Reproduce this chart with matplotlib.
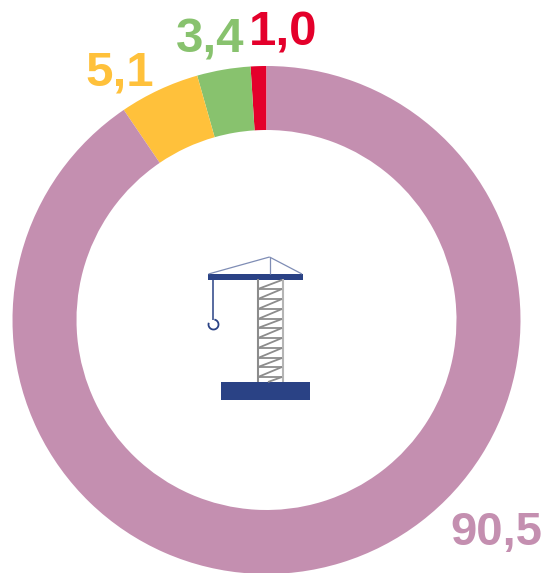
import matplotlib
matplotlib.use('Agg')

import matplotlib.pyplot as plt
from matplotlib.patches import Arc

values = [1.0, 3.4, 5.1, 90.5]
labels = ['1,0', '3,4', '5,1', '90,5']
colors = ['#E4002B', '#88C26E', '#FFC13B', '#C48FB0']
label_xy = [(283.5, 33), (210.5, 39.5), (120, 73), (496, 533)]
label_size = [35.5, 35.5, 35.5, 34]

W, H = 547, 573

fig = plt.figure(figsize=(W / 100, H / 100), dpi=100)
ax = fig.add_axes([0, 0, 1, 1])

# axes are in pixels of the picture, y measured from the top
ax.pie(values, colors=colors, startangle=90, counterclock=True,
       center=(266.5, H - 320), radius=254,
       wedgeprops=dict(width=64, linewidth=0))
ax.set_xlim(0, W)
ax.set_ylim(0, H)
ax.set_aspect('equal')
ax.axis('off')

for lab, col, (x, y), size in zip(labels, colors, label_xy, label_size):
    ax.text(x, H - y, lab, color=col, fontsize=size, fontweight='bold',
            family='Liberation Sans', ha='center', va='center')


# crane icon
def px(x, y):
    return x, H - y


navy = '#2A4285'
line = '#7F8DB5'
grey = '#8C8C8C'


def seg(x0, y0, x1, y1, c, lw):
    ax.plot([x0, x1], [H - y0, H - y1], color=c, lw=lw, solid_capstyle='butt')


def box(x0, y0, x1, y1):
    ax.fill([x0, x1, x1, x0], [H - y0, H - y0, H - y1, H - y1], color=navy, lw=0)


# mast
seg(257.5, 279, 257.5, 382, grey, 1.5)
seg(282.5, 279, 282.5, 382, '#B5B5B5', 1.5)
rungs = [289, 299, 309, 319, 328, 338, 348, 358, 367, 377]
prev = 280
for r in rungs:
    seg(258, r, 282, prev, grey, 1.3)
    seg(258, r, 282, r, grey, 1.3)
    prev = r
seg(268, 382, 282, 377, grey, 1.3)

# jib, ties and base
box(208, 273.5, 302.5, 279.5)
box(220.5, 382, 309.5, 400)
seg(208.5, 274, 269.5, 257, line, 0.9)
seg(269.5, 257, 302, 274, line, 0.9)
seg(269.5, 257, 269.5, 274, line, 0.9)

# hook
seg(213, 279, 213, 320, navy, 1.1)
ax.add_patch(Arc(px(213.5, 324.5), 10, 10, theta1=-200, theta2=80, color=navy, lw=1.3))

fig.savefig('out.png', dpi=100)
